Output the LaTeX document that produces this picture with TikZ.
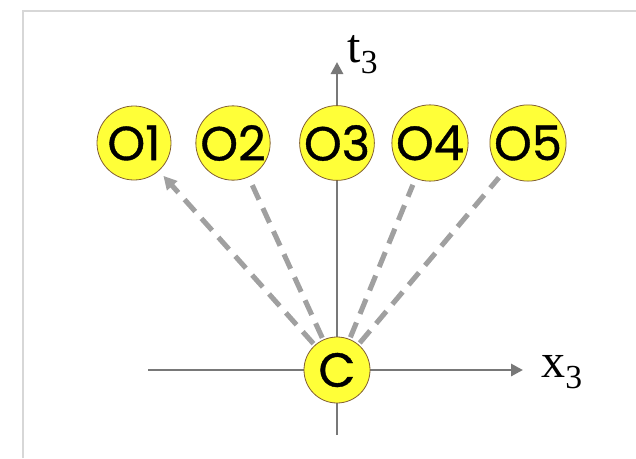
\documentclass[tikz,border=0pt]{standalone}
\usepackage{fontspec}
\setmainfont{Liberation Serif}
\newfontfamily\circfont[FakeBold=0.8]{Poppins}
\usetikzlibrary{arrows.meta,backgrounds}
\definecolor{ball}{RGB}{255,255,56}
\definecolor{rim}{RGB}{130,95,50}
\definecolor{axisgray}{RGB}{120,120,120}
\definecolor{dashgray}{RGB}{160,160,160}
\definecolor{framegray}{RGB}{215,215,215}
\tikzset{
  ball/.style={circle, fill=ball, draw=rim, line width=0.6pt, inner sep=0pt,
    minimum size=55.5pt, font=\circfont\fontsize{36}{36}\selectfont},
  cball/.style={ball, minimum size=49.5pt},
  axisline/.style={draw=axisgray, line width=2.2pt, -{Triangle[length=9pt,width=9pt]}},
  link/.style={draw=dashgray, line width=3.8pt, dash pattern=on 12pt off 7pt,
    shorten <=7.5pt, shorten >=5pt},
  lbl/.style={font=\fontsize{36}{36}\selectfont, inner sep=0pt}
}
\begin{document}
\begin{tikzpicture}[x=0.75pt,y=-0.75pt]
\useasboundingbox (0,0) rectangle (636,458);
\node[cball] (C) at (337,370) {C};
\node[ball] (O1) at (134,143) {O1};
\node[ball] (O2) at (233,143) {O2};
\node[ball] (O3) at (337,143) {O3};
\node[ball] (O4) at (430,143) {O4};
\node[ball] (O5) at (528,143) {O5};
\node[lbl] (t) at (363,55) {t$_{\mathrm{3}}$};
\node[lbl] (x) at (562,372) {x$_{\mathrm{3}}$};
\coordinate (fa) at (23,458);
\coordinate (fb) at (23,11);
\coordinate (fc) at (636,11);
\coordinate (tbot) at (337,435);
\coordinate (ttop) at (337,62);
\coordinate (xl) at (148,370);
\coordinate (xr) at (523,370);
\begin{scope}[on background layer]
  \draw[framegray, line width=1.5pt] (fa) -- (fb) -- (fc);
  \draw[axisline] (tbot) -- (ttop);
  \draw[axisline] (xl) -- (xr);
  \draw[link, -{Triangle[length=10pt,width=10pt]}] (C.center) -- (O1);
  \draw[link] (C.center) -- (O2);
  \draw[link] (C.center) -- (O4);
  \draw[link] (C.center) -- (O5);
\end{scope}
\end{tikzpicture}
\end{document}
